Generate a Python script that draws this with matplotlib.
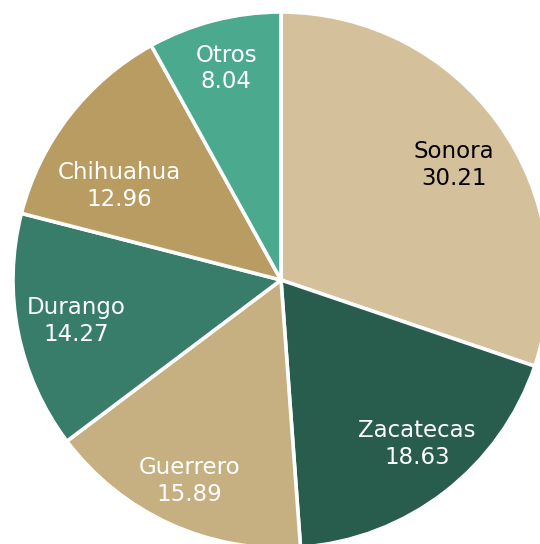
import matplotlib.pyplot as plt
import numpy as np

estados = ['Sonora', 'Zacatecas', 'Guerrero', 'Durango', 'Chihuahua', 'Otros']
valores = [30.21, 18.63, 15.89, 14.27, 12.96, 8.04]
colores = ['#D4C19C', '#285C4D', '#C6AF80', '#377D6A', '#B89C62', '#4BA98D']
color_texto = ['black', 'white', 'white', 'white', 'white', 'white']
dist_texto = [0.775, 0.795, 0.825, 0.78, 0.70, 0.815]
giro_texto = [-2.0, 2.0, 0.0, 0.0, 7.5, 0.0]   # grados respecto al angulo medio

W, H = 540, 544
cx, cy, r = 281, 280, 268

fig = plt.figure(figsize=(W / 100, H / 100), dpi=100)
ax = fig.add_axes([0, 0, 1, 1])

wedges, _ = ax.pie(valores, colors=colores, startangle=90, counterclock=False,
                   wedgeprops=dict(edgecolor='white', linewidth=2.6))

# etiquetas en dos lineas
angulo = 90.0
for nombre, v, c, d, g in zip(estados, valores, color_texto, dist_texto, giro_texto):
    medio = np.deg2rad(angulo - v * 3.6 / 2 + g)
    ax.text(d * np.cos(medio), d * np.sin(medio), f'{nombre}\n{v:.2f}',
            ha='center', va='center', fontsize=16.5, color=c, linespacing=1.22,
            family='DejaVu Sans')
    angulo -= v * 3.6

ax.set_aspect('auto')
ax.set_xlim(-cx / r, (W - cx) / r)
ax.set_ylim(-(H - cy) / r, cy / r)
ax.axis('off')

fig.savefig('out.png', dpi=100, facecolor='white')
